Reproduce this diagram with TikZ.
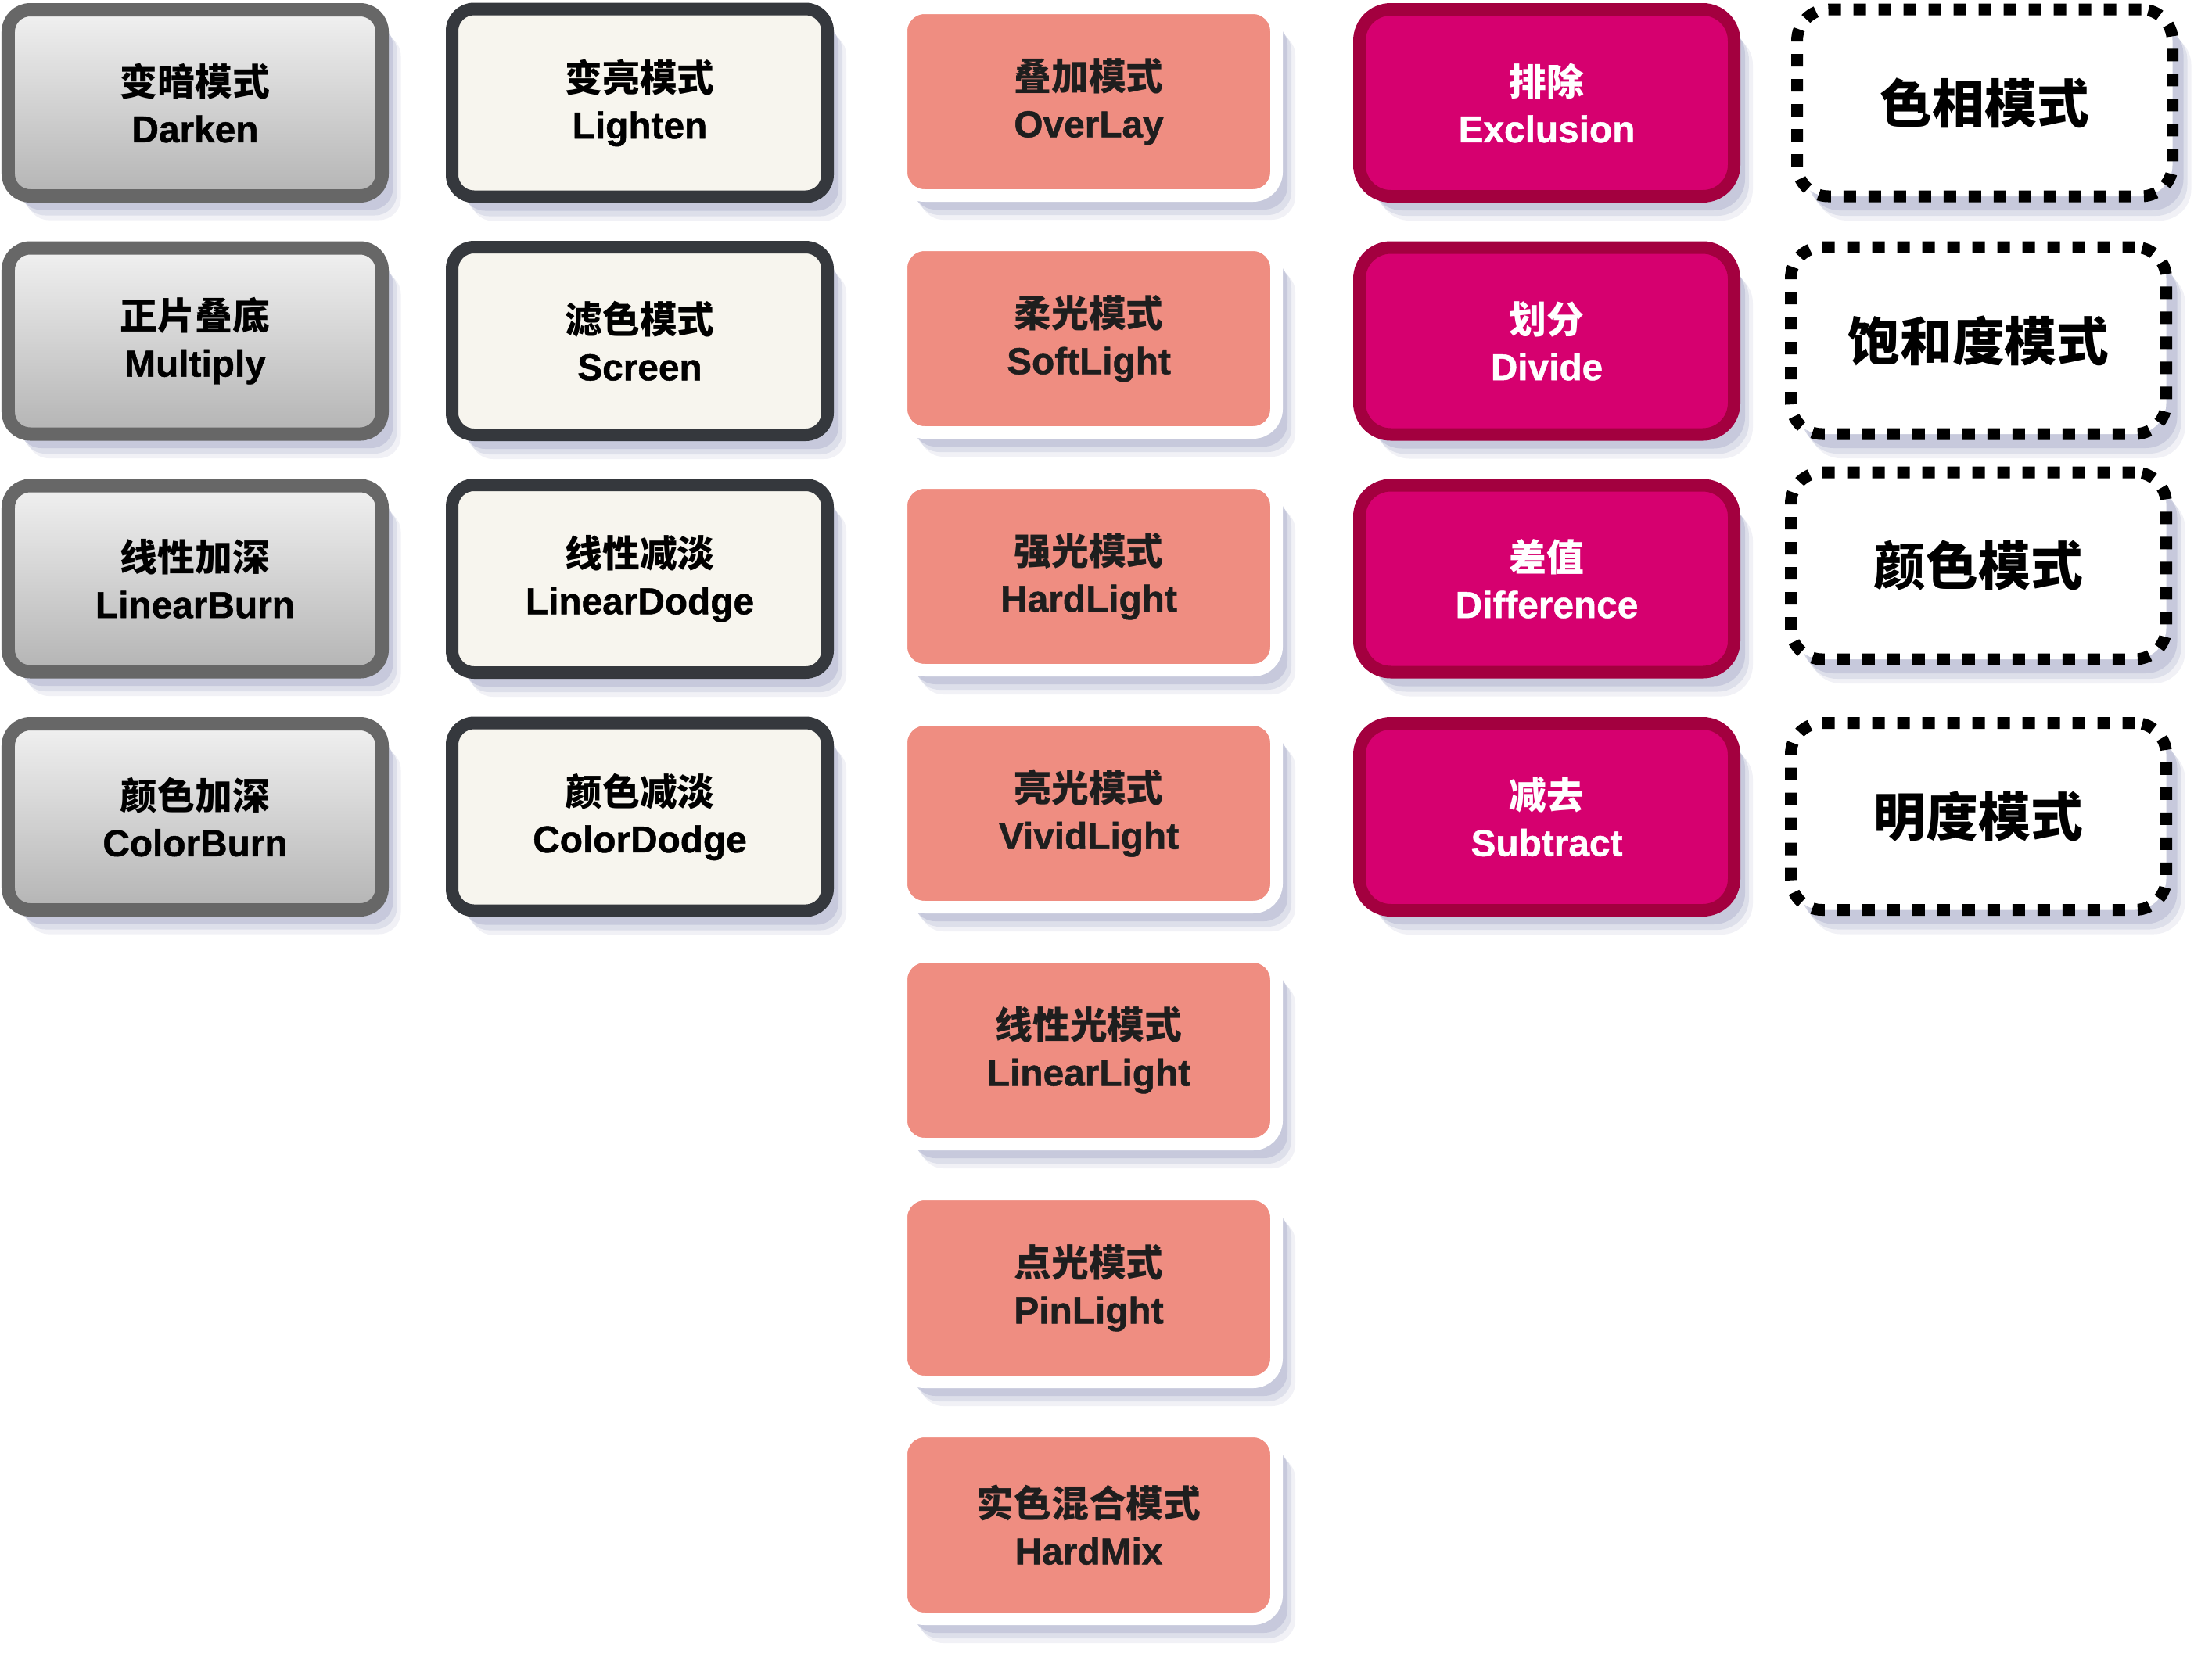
\documentclass[tikz,border=0pt]{standalone}
\usepackage{fontspec}
\setmainfont{Liberation Sans}[BoldFeatures={FakeBold=1}]
\newfontfamily\cjk{Noto Sans CJK SC}
\usetikzlibrary{shadows}

\definecolor{grayline}{HTML}{676767}
\definecolor{graytop}{HTML}{F1F1F1}
\definecolor{graybot}{HTML}{B4B4B4}
\definecolor{darkline}{HTML}{35383D}
\definecolor{cream}{HTML}{F7F5EE}
\definecolor{salmon}{HTML}{EF8D81}
\definecolor{inkdark}{HTML}{1E1E1E}
\definecolor{magenta}{HTML}{D6006F}
\definecolor{crimson}{HTML}{A3003F}
\definecolor{shadowblue}{HTML}{B0B4CE}

\begin{document}
\begin{tikzpicture}[
    boxshadow/.style={
        general shadow={shadow xshift=0.24cm, shadow yshift=-0.31cm, fill=shadowblue, opacity=0.18},
        general shadow={shadow xshift=0.19cm, shadow yshift=-0.25cm, fill=shadowblue, opacity=0.30},
        general shadow={shadow xshift=0.14cm, shadow yshift=-0.18cm, fill=shadowblue, opacity=0.50}},
    modebox/.style={boxshadow, rectangle, align=center, inner sep=0pt,
        font=\bfseries\fontsize{13.6}{17}\selectfont},
    darkbox/.style={modebox, draw=grayline, line width=0.17cm, top color=graytop, bottom color=graybot,
        rounded corners=0.28cm, minimum width=4.78cm, minimum height=2.38cm},
    lightbox/.style={modebox, draw=darkline, line width=0.16cm, fill=cream,
        rounded corners=0.28cm, minimum width=4.80cm, minimum height=2.40cm},
    contrastbox/.style={modebox, draw=white, line width=0.16cm, fill=salmon, text=inkdark,
        rounded corners=0.30cm, minimum width=4.80cm, minimum height=2.40cm},
    diffbox/.style={modebox, draw=crimson, line width=0.16cm, fill=magenta, text=white,
        rounded corners=0.40cm, minimum width=4.79cm, minimum height=2.39cm},
    compbox/.style={boxshadow, rectangle, align=center, inner sep=0pt, draw=black, fill=white,
        line width=0.15cm, dash pattern=on 0.16cm off 0.16cm, rounded corners=0.40cm,
        minimum width=4.80cm, minimum height=2.39cm, font=\bfseries\fontsize{19}{21}\selectfont}
]

    \useasboundingbox (0,0) rectangle (28.28,-21.24);

    %%%%%%%%%%%%%%%%%%%%%%%%%%%%%%%%%%%%%%%%%%%%%%%%%%%%%%

    % darken group
    \node[darkbox] (darken) at (2.495,-1.315) {{\cjk 变暗模式}\\Darken};
    \node[darkbox] (multiply) at (2.495,-4.36) {{\cjk 正片叠底}\\Multiply};
    \node[darkbox] (linearburn) at (2.495,-7.40) {{\cjk 线性加深}\\LinearBurn};
    \node[darkbox] (colorburn) at (2.495,-10.445) {{\cjk 颜色加深}\\ColorBurn};

    %%%%%%%%%%%%%%%%%%%%%%%%%%%%%%%%%%%%%%%%%%%%%%%%%%%%%%

    % lighten group
    \node[lightbox] (lighten) at (8.18,-1.315) {{\cjk 变亮模式}\\Lighten};
    \node[lightbox] (screen) at (8.18,-4.36) {{\cjk 滤色模式}\\Screen};
    \node[lightbox] (lineardodge) at (8.18,-7.40) {{\cjk 线性减淡}\\LinearDodge};
    \node[lightbox] (colordodge) at (8.18,-10.445) {{\cjk 颜色减淡}\\ColorDodge};

    %%%%%%%%%%%%%%%%%%%%%%%%%%%%%%%%%%%%%%%%%%%%%%%%%%%%%%

    % contrast group
    \node[contrastbox] (overlay) at (13.92,-1.30) {{\cjk 叠加模式}\\OverLay};
    \node[contrastbox] (softlight) at (13.92,-4.33) {{\cjk 柔光模式}\\SoftLight};
    \node[contrastbox] (hardlight) at (13.92,-7.37) {{\cjk 强光模式}\\HardLight};
    \node[contrastbox] (vividlight) at (13.92,-10.40) {{\cjk 亮光模式}\\VividLight};
    \node[contrastbox] (linearlight) at (13.92,-13.43) {{\cjk 线性光模式}\\LinearLight};
    \node[contrastbox] (pinlight) at (13.92,-16.47) {{\cjk 点光模式}\\PinLight};
    \node[contrastbox] (hardmix) at (13.92,-19.50) {{\cjk 实色混合模式}\\HardMix};

    %%%%%%%%%%%%%%%%%%%%%%%%%%%%%%%%%%%%%%%%%%%%%%%%%%%%%%

    % difference group
    \node[diffbox] (exclusion) at (19.775,-1.315) {{\cjk 排除}\\Exclusion};
    \node[diffbox] (divide) at (19.775,-4.36) {{\cjk 划分}\\Divide};
    \node[diffbox] (difference) at (19.775,-7.40) {{\cjk 差值}\\Difference};
    \node[diffbox] (subtract) at (19.775,-10.445) {{\cjk 减去}\\Subtract};

    %%%%%%%%%%%%%%%%%%%%%%%%%%%%%%%%%%%%%%%%%%%%%%%%%%%%%%

    % component group
    \node[compbox] (hue) at (25.375,-1.315) {\cjk 色相模式};
    \node[compbox] (saturation) at (25.295,-4.355) {\cjk 饱和度模式};
    \node[compbox] (color) at (25.295,-7.235) {\cjk 颜色模式};
    \node[compbox] (luminosity) at (25.295,-10.44) {\cjk 明度模式};

\end{tikzpicture}
\end{document}
